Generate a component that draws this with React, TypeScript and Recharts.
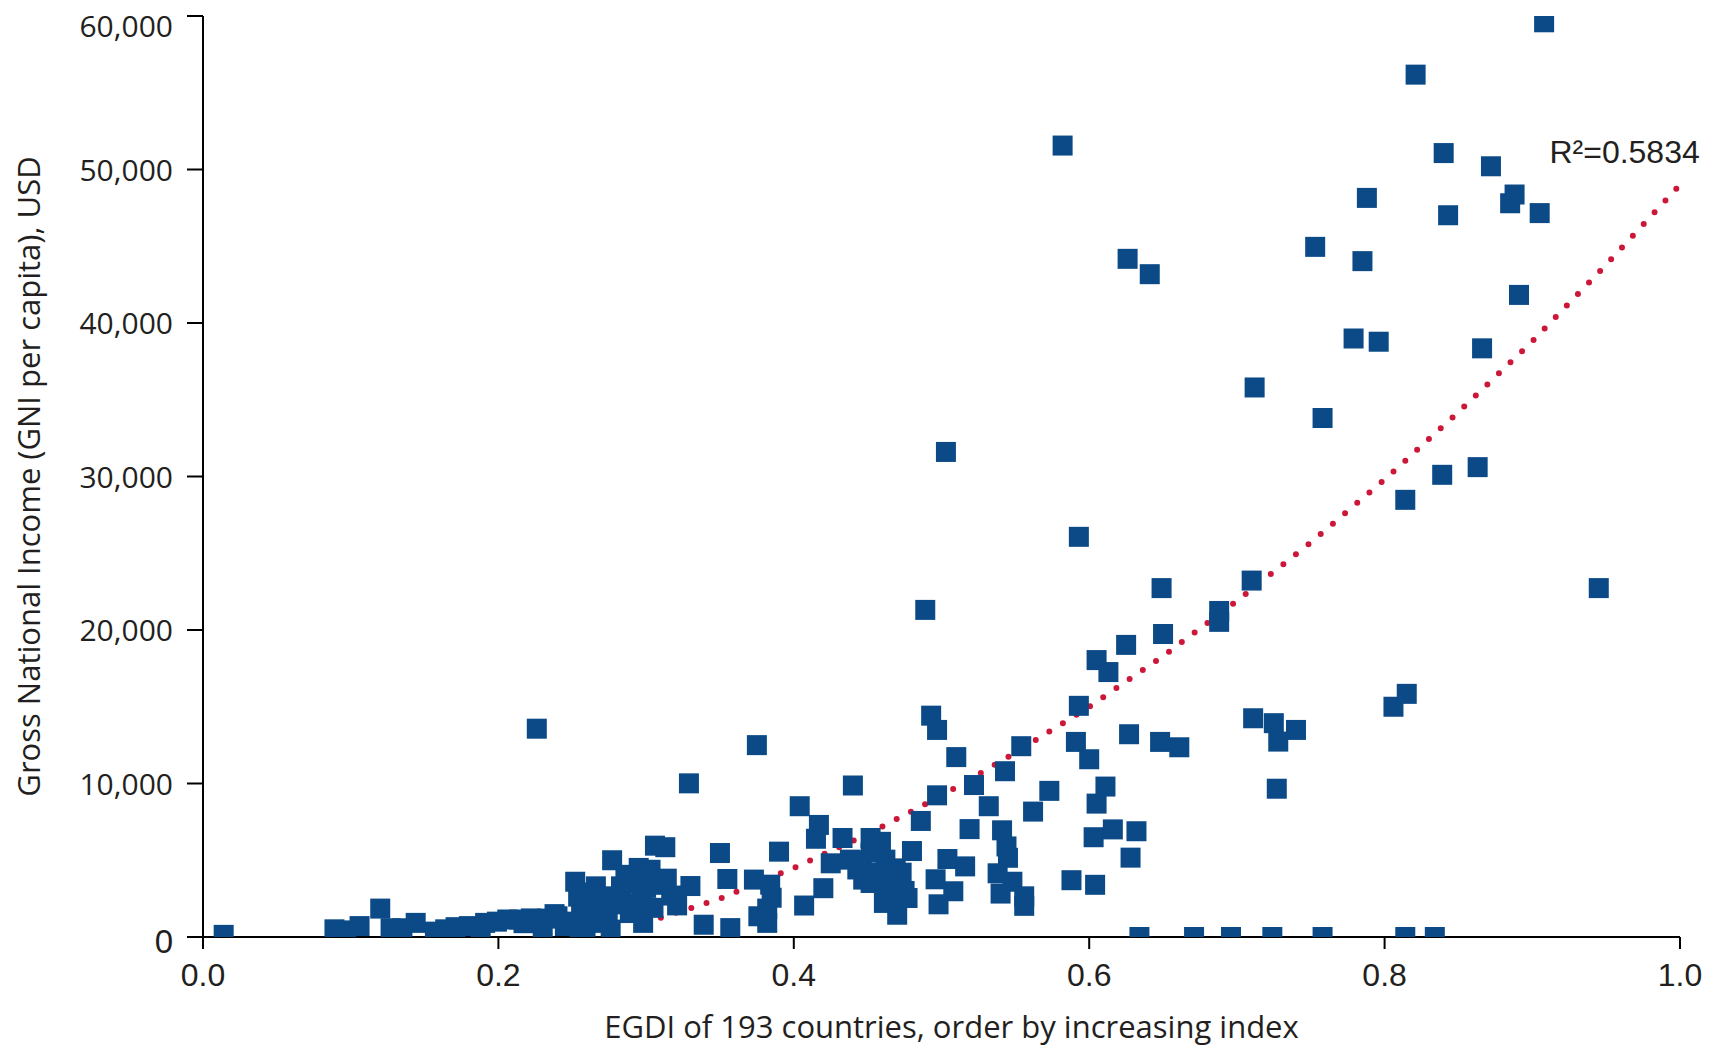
import React from "react";
import { ScatterChart, Scatter, XAxis, YAxis, ReferenceDot } from "recharts";

// EGDI score and GNI per capita (USD), one entry per country
const egdi = [
  0.014, 0.089, 0.097, 0.106, 0.12, 0.127, 0.135, 0.144, 0.157, 0.164,
  0.171, 0.18, 0.188, 0.191, 0.199, 0.206, 0.214, 0.217, 0.222, 0.226,
  0.23, 0.233, 0.238, 0.24, 0.245, 0.248, 0.252, 0.254, 0.255, 0.256,
  0.258, 0.259, 0.262, 0.262, 0.265, 0.266, 0.268, 0.269, 0.271, 0.274,
  0.276, 0.277, 0.278, 0.281, 0.283, 0.286, 0.287, 0.289, 0.291, 0.293,
  0.295, 0.297, 0.298, 0.3, 0.303, 0.305, 0.306, 0.308, 0.313, 0.314,
  0.317, 0.321, 0.329, 0.33, 0.339, 0.35, 0.355, 0.357, 0.373, 0.375,
  0.376, 0.382, 0.382, 0.384, 0.385, 0.39, 0.404, 0.407, 0.415, 0.417,
  0.42, 0.425, 0.433, 0.438, 0.44, 0.443, 0.446, 0.447, 0.452, 0.452,
  0.452, 0.456, 0.459, 0.46, 0.461, 0.462, 0.465, 0.467, 0.469, 0.47,
  0.473, 0.475, 0.477, 0.48, 0.486, 0.489, 0.493, 0.496, 0.497, 0.497,
  0.498, 0.503, 0.504, 0.508, 0.51, 0.516, 0.519, 0.522, 0.532, 0.538,
  0.54, 0.541, 0.543, 0.544, 0.545, 0.548, 0.554, 0.556, 0.556, 0.562,
  0.573, 0.582, 0.588, 0.591, 0.593, 0.593, 0.6, 0.603, 0.604, 0.605,
  0.605, 0.611, 0.613, 0.616, 0.625, 0.626, 0.627, 0.628, 0.632, 0.634,
  0.641, 0.648, 0.649, 0.65, 0.661, 0.671, 0.688, 0.688, 0.696, 0.71,
  0.711, 0.712, 0.724, 0.725, 0.727, 0.728, 0.74, 0.753, 0.758, 0.758,
  0.779, 0.785, 0.788, 0.796, 0.806, 0.814, 0.814, 0.815, 0.821, 0.834,
  0.839, 0.84, 0.843, 0.863, 0.866, 0.872, 0.885, 0.888, 0.891, 0.905,
  0.908, 0.945,
];
const gni = [
  140, 500, 430, 710, 1850, 570, 570, 920, 350, 500,
  640, 710, 570, 920, 1000, 1140, 1140, 900, 1210, 13570,
  640, 1200, 1490, 1350, 710, 1000, 3600, 2630, 480, 1490,
  2300, 640, 2900, 1100, 920, 3300, 1850, 1350, 2400, 1070,
  480, 5000, 2650, 2130, 3300, 4050, 2200, 1560, 3520, 1900,
  4500, 2770, 920, 3200, 4380, 1900, 5950, 3400, 5850, 3800,
  2700, 2060, 10010, 3320, 800, 5470, 3780, 580, 3740, 12500,
  1350, 920, 1850, 3410, 2560, 5560, 8520, 2050, 6400, 7300,
  3180, 4800, 6450, 5040, 9870, 4400, 5000, 3740, 6450, 5500,
  3520, 4190, 6200, 4000, 2220, 5040, 3500, 2340, 4470, 1450,
  4190, 3000, 2540, 5600, 7560, 21310, 14420, 3760, 13490, 9230,
  2130, 31600, 5080, 2980, 11720, 4600, 7030, 9900, 8520, 4150,
  2830, 6950, 10800, 5900, 5160, 3600, 12430, 2650, 2030, 8170,
  9520, 51560, 3700, 12710, 15060, 26070, 11580, 6500, 3400, 8690,
  18040, 9800, 17260, 7010, 19030, 44180, 13210, 5170, 6890, 0,
  43180, 12710, 22730, 19740, 12360, 0, 21240, 20530, 0, 23220,
  14250, 35800, 0, 13930, 9660, 12730, 13490, 44960, 33810, 0,
  38990, 44030, 48150, 38780, 15000, 28480, 0, 15840, 56180, 0,
  30110, 51070, 47020, 30610, 38350, 50210, 47800, 48370, 41830, 47160,
  59590, 22730,
];

// polynomial trend line
const trendEgdi = [0.31, 0.35, 0.4, 0.45, 0.5, 0.55, 0.6, 0.65, 0.7, 0.75, 0.8, 0.85, 0.9, 0.95, 1.0];
const trendGni = [1250, 2500, 4500, 6700, 9200, 12000, 15000, 18300, 21900, 25700, 29800, 34200, 38800, 43800, 49000];

const xTicks = [0, 0.2, 0.4, 0.6, 0.8, 1.0];
const yTicks = [0, 10000, 20000, 30000, 40000, 50000, 60000];

const r2Text = "R\u00b2=0.5834";
const r2Pos = { x: 0.9116, y: 50400 };
const xTitle = "EGDI of 193 countries, order by increasing index";
const yTitle = "Gross National Income (GNI per capita), USD";

const BLUE = "#0b4a87";
const RED = "#cc1838";
const TEXT = "#231f20";
const HUMANIST = "'Open Sans', sans-serif";
const ARIAL = "'Liberation Sans', Arial, sans-serif";

const points = egdi.map((x, i) => ({ x, y: gni[i] }));
const trend = trendEgdi.map((x, i) => ({ x, y: trendGni[i] }));

const Square = (props: any) => {
  const { cx, cy } = props;
  if (cx == null || cy == null) return <g />;
  return <rect x={cx - 10} y={cy - 10} width={20} height={20} fill={BLUE} />;
};

const NoDot = () => <g />;

const XTick = (props: any) => {
  const { x, y, payload } = props;
  return (
    <text x={x} y={y} dy={37} textAnchor="middle" fontFamily={ARIAL} fontSize={32} fill={TEXT}>
      {Number(payload.value).toFixed(1)}
    </text>
  );
};

const YTick = (props: any) => {
  const { x, y, payload } = props;
  const v = Number(payload.value);
  if (v === 0) {
    return (
      <text x={x} y={y} dy={16} textAnchor="end" fontFamily={ARIAL} fontSize={33} fill={TEXT}>
        0
      </text>
    );
  }
  // top label sits a little below its tick
  const dy = v === 60000 ? 21 : 11;
  return (
    <text x={x} y={y} dy={dy} textAnchor="end" fontFamily={HUMANIST} fontSize={30} fill={TEXT}>
      {v.toLocaleString("en-US")}
    </text>
  );
};

const XTitle = (props: any) => {
  const vb = props.viewBox;
  return (
    <text x={vb.x + vb.width / 2 + 10} y={vb.y + 101} textAnchor="middle" fontFamily={HUMANIST} fontSize={31} fill={TEXT}>
      {xTitle}
    </text>
  );
};

const YTitle = (props: any) => {
  const vb = props.viewBox;
  const cx = 40;
  const cy = vb.y + vb.height / 2;
  return (
    <text x={cx} y={cy} transform={`rotate(-90 ${cx} ${cy})`} textAnchor="middle" fontFamily={HUMANIST} fontSize={31} fill={TEXT}>
      {yTitle}
    </text>
  );
};

const R2Label = (props: any) => {
  const vb = props.viewBox;
  return (
    <text x={vb.x} y={vb.y} textAnchor="start" fontFamily={ARIAL} fontSize={32} fill={TEXT}>
      {r2Text}
    </text>
  );
};

export default function App() {
  return (
    <div style={{ position: "absolute", left: 0, top: 0, width: 1711, height: 1047, background: "#fff" }}>
      <ScatterChart width={1711} height={1047} margin={{ top: 16, right: 31, bottom: 10, left: 3 }}>
        <XAxis
          type="number"
          dataKey="x"
          domain={[0, 1]}
          ticks={xTicks}
          interval={0}
          allowDataOverflow
          height={100}
          tickSize={12}
          tickMargin={0}
          axisLine={{ stroke: "#000", strokeWidth: 2 }}
          tickLine={{ stroke: "#000", strokeWidth: 2 }}
          tick={<XTick />}
          label={XTitle}
        />
        <YAxis
          type="number"
          dataKey="y"
          domain={[0, 60000]}
          ticks={yTicks}
          interval={0}
          allowDataOverflow
          width={200}
          tickSize={16}
          tickMargin={14}
          axisLine={{ stroke: "#000", strokeWidth: 2 }}
          tickLine={{ stroke: "#000", strokeWidth: 2 }}
          tick={<YTick />}
          label={YTitle}
        />
        <Scatter
          data={trend}
          line={{ stroke: RED, strokeWidth: 6, strokeDasharray: "0 16", strokeLinecap: "round", fill: "none" }}
          lineType="joint"
          shape={NoDot}
          isAnimationActive={false}
        />
        <Scatter data={points} shape={Square} fill={BLUE} isAnimationActive={false} />
        <ReferenceDot x={r2Pos.x} y={r2Pos.y} r={0} fill="none" stroke="none" label={R2Label} />
      </ScatterChart>
    </div>
  );
}
